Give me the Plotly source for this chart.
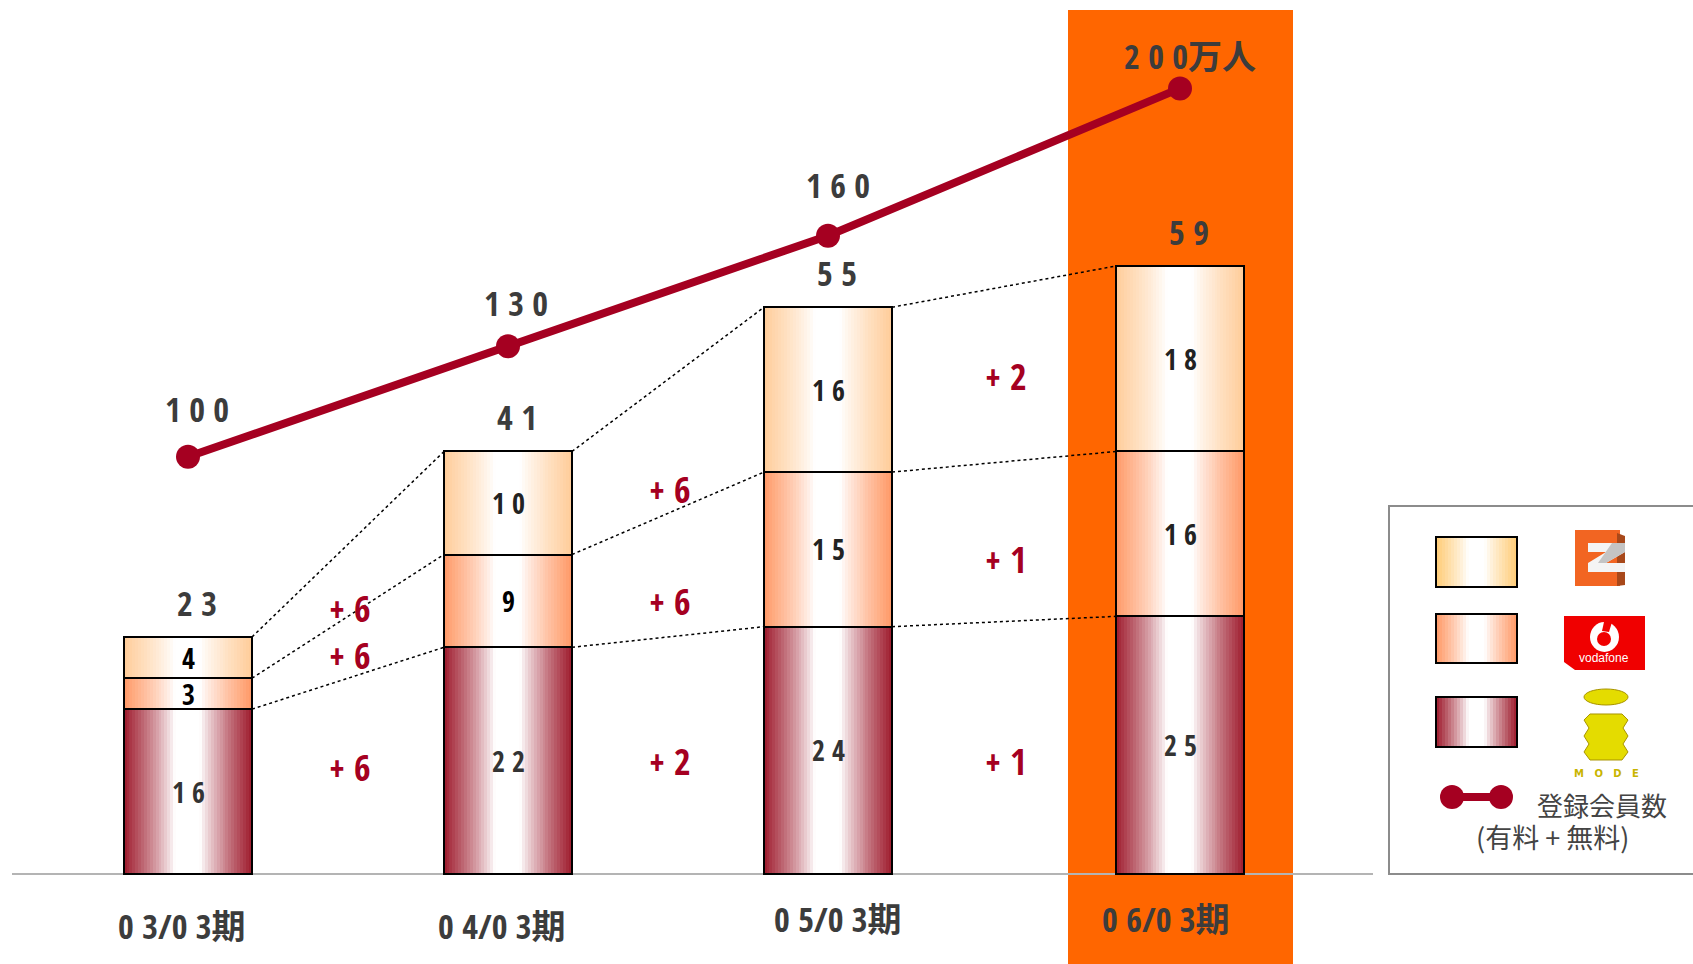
import plotly.graph_objects as go

# Membership data (units: 10,000 people)
periods = ["0 3/0 3期", "0 4/0 3期", "0 5/0 3期", "0 6/0 3期"]
imode = [16, 22, 24, 25]
vodafone = [3, 9, 15, 16]
ezweb = [4, 10, 16, 18]
totals = [23, 41, 55, 59]
members = [100, 130, 160, 200]
member_labels = ["1 0 0", "1 3 0", "1 6 0", "2 0 0万人"]
delta_top = ["+ 6", "+ 6", "+ 2"]
delta_mid = ["+ 6", "+ 6", "+ 1"]
delta_low = ["+ 6", "+ 2", "+ 1"]

# Page geometry
W, H = 1693, 964
BASE_PX = 874
X0_PX, SLOT_PX = 188, 320
SLOTS = [0, 1, 2, 3.1]
BAR_W = 0.4
STRIPS = 44
PX_PER_UNIT = 608 / 59
PX_PER_MEMBER, MEMBER_OFFSET = 3.684, 48.8

NUM_FONT = "Open Sans Condensed, Noto Sans CJK JP, sans-serif"
CJK_FONT = "Noto Sans CJK JP, sans-serif"
DARK = "#3c3c3c"
CRIMSON = "#A50021"
ORANGE = "#FF6600"
C_LOW, C_MID, C_TOP = "#9E1B2D", "#FF9966", "#FFCC99"


def fade(edge, t):
    """Horizontal sheen: edge colour at t=0 and t=1, white through the centre."""
    d = min(abs(t - 0.5) * 2, 1)
    k = min(max((d - 0.2) / 0.8, 0), 1) ** 0.85
    rgb = [int(edge[i:i + 2], 16) for i in (1, 3, 5)]
    return "rgb(%d,%d,%d)" % tuple(round(255 + (c - 255) * k) for c in rgb)


def px(x):
    return x / W


def py(y):
    return 1 - y / H


fig = go.Figure()

# Gradient fill of every stacked segment, built from narrow strips
step = BAR_W / STRIPS
for name, vals, edge in (("i-mode", imode, C_LOW), ("vodafone", vodafone, C_MID), ("EZweb", ezweb, C_TOP)):
    xs, ys, cols = [], [], []
    for s, v in zip(SLOTS, vals):
        for i in range(STRIPS):
            t = (i + 0.5) / STRIPS
            xs.append(s - BAR_W / 2 + t * BAR_W)
            ys.append(v)
            cols.append(fade(edge, t))
    fig.add_trace(go.Bar(x=xs, y=ys, width=step * 1.25, name=name, marker=dict(color=cols, line_width=0),
                         hoverinfo="skip", showlegend=False))

# Black outlines of the same stacks on an overlaid axis pair
for vals in (imode, vodafone, ezweb):
    fig.add_trace(go.Bar(x=SLOTS, y=vals, width=BAR_W, xaxis="x2", yaxis="y3", showlegend=False,
                         marker=dict(color="rgba(0,0,0,0)", line=dict(color="#000000", width=2))))

# Dotted connectors between the tops of matching segments
cum_low = imode
cum_mid = [a + b for a, b in zip(imode, vodafone)]
cum_top = [a + b + c for a, b, c in zip(imode, vodafone, ezweb)]
for cum in (cum_low, cum_mid, cum_top):
    xs, ys = [], []
    for i in range(3):
        xs += [SLOTS[i] + BAR_W / 2, SLOTS[i + 1] - BAR_W / 2, None]
        ys += [cum[i], cum[i + 1], None]
    fig.add_trace(go.Scatter(x=xs, y=ys, mode="lines", showlegend=False, hoverinfo="skip",
                             line=dict(color="#000000", width=1.5, dash="dot")))

# Registered members line
fig.add_trace(go.Scatter(x=SLOTS, y=members, yaxis="y2", mode="lines+markers", showlegend=False,
                         line=dict(color=CRIMSON, width=8), marker=dict(color=CRIMSON, size=24)))

ann = []


def text(x, y, s, size, color=DARK, family=NUM_FONT, xref="paper", yref="paper", bold=True, **kw):
    ann.append(dict(x=x, y=y, xref=xref, yref=yref, text=f"<b>{s}</b>" if bold else s, showarrow=False,
                    xanchor="center", yanchor="middle", font=dict(size=size, color=color, family=family), **kw))


# Segment values, centred in each segment
for i, s in enumerate(SLOTS):
    text(s, imode[i] / 2, f"{imode[i] // 10} {imode[i] % 10}", 28, "#333333", xref="x", yref="y")
    for vals, base in ((vodafone, cum_low), (ezweb, cum_mid)):
        v = vals[i]
        label = str(v) if v < 10 else f"{v // 10} {v % 10}"
        text(s, base[i] + v / 2, label, 28, "#000000" if v < 10 else "#222222", xref="x", yref="y")
    # Stack totals above each bar
    text(s, totals[i], f"{totals[i] // 10} {totals[i] % 10}", 34, xref="x", yref="y", xshift=9, yshift=34)

# Member counts above the line
for s, v, lab, xs, ys in zip(SLOTS, members, member_labels, (9, 8, 10, 10), (48, 43, 51, 32)):
    text(s, v, lab, 34, xref="x", yref="y2", xshift=xs, yshift=ys)

# Period labels under the baseline
for s, lab, xs, y in zip(SLOTS, periods, (-6, -6, 10, -14), (926, 926, 919, 919)):
    text(s, py(y), lab, 34, xref="x", yref="paper", xshift=xs)

# Year-on-year increases between the bars
for j, x, ytop, ymid, ylow in ((0, 350, 608, 655, 767), (1, 670, 489, 601, 761), (2, 1006, 377, 559, 761)):
    text(px(x), py(ytop), delta_top[j], 36, CRIMSON)
    text(px(x), py(ymid), delta_mid[j], 36, CRIMSON)
    text(px(x), py(ylow), delta_low[j], 36, CRIMSON)

# Legend captions
text(px(1602), py(804), "登録会員数", 26, "#444444", CJK_FONT, bold=False)
text(px(1552), py(836), "(有料 + 無料)", 27, "#444444", CJK_FONT, bold=False)
text(px(1604), py(658), "vodafone", 12, "#ffffff", "Liberation Sans, sans-serif", bold=False)
text(px(1606), py(773), "M\u00a0\u00a0\u00a0O\u00a0\u00a0\u00a0D\u00a0\u00a0\u00a0E", 10, "#C8B400", "DejaVu Sans, sans-serif")

shapes = [
    # Highlight band behind the latest period
    dict(type="rect", xref="paper", yref="paper", x0=px(1068), x1=px(1293), y0=0, y1=py(10),
         fillcolor=ORANGE, line_width=0, layer="below"),
    # Baseline
    dict(type="line", xref="paper", yref="paper", x0=px(12), x1=px(1373), y0=py(BASE_PX), y1=py(BASE_PX),
         line=dict(color="#b4b4b4", width=2), layer="below"),
    # Legend frame, running off the right edge
    dict(type="rect", xref="paper", yref="paper", x0=px(1389), x1=px(1700), y0=py(874), y1=py(506),
         line=dict(color="#8c8c8c", width=2), fillcolor="rgba(0,0,0,0)", layer="below"),
]


def pshape(**kw):
    if "line" not in kw:
        kw["line"] = dict(width=0)
    shapes.append(dict(xref="paper", yref="paper", layer="above", **kw))


def path(points):
    return "M" + " L".join(f"{px(x):.5f},{py(y):.5f}" for x, y in points) + " Z"


# Legend swatches with the same sheen as the bars
for edge, top, bottom in (("#FFCC77", 537, 587), (C_MID, 614, 663), (C_LOW, 697, 747)):
    n = 27
    for i in range(n):
        pshape(type="rect", x0=px(1436 + 81 * i / n), x1=px(1436 + 81 * (i + 1) / n + 0.6),
               y0=py(bottom), y1=py(top), fillcolor=fade(edge, (i + 0.5) / n))
    pshape(type="rect", x0=px(1436), x1=px(1517), y0=py(bottom), y1=py(top),
           line=dict(color="#000000", width=2))

# Legend key of the line series
pshape(type="line", x0=px(1452), x1=px(1501), y0=py(797), y1=py(797), line=dict(color=CRIMSON, width=8))
for cx in (1452, 1501):
    pshape(type="circle", x0=px(cx - 12), x1=px(cx + 12), y0=py(809), y1=py(785), fillcolor=CRIMSON)

# EZweb mark
pshape(type="rect", x0=px(1575), x1=px(1620), y0=py(586), y1=py(530), fillcolor="#F26522")
pshape(type="path", path=path([(1617, 533), (1625, 536), (1625, 585), (1617, 586)]), fillcolor="#A8481A")
pshape(type="path", path=path([(1588, 543), (1625, 543), (1625, 552), (1606, 563), (1625, 563), (1625, 572),
                               (1588, 572), (1588, 563), (1606, 552), (1588, 552)]), fillcolor="#F4F4F4")
pshape(type="path", path=path([(1612, 543), (1625, 543), (1625, 552), (1606, 563), (1598, 563)]), fillcolor="#C4C4C4")

# vodafone mark
pshape(type="path", path=path([(1564, 616), (1645, 616), (1645, 670), (1575, 670), (1564, 662)]), fillcolor="#F00000")
pshape(type="circle", x0=px(1590), x1=px(1619), y0=py(652), y1=py(622), fillcolor="#ffffff")
pshape(type="circle", x0=px(1597), x1=px(1611), y0=py(646), y1=py(632), fillcolor="#F00000")
pshape(type="path", path=path([(1604, 622), (1612, 622), (1609, 632), (1602, 631)]), fillcolor="#F00000")

# i-mode mark
pshape(type="circle", x0=px(1584), x1=px(1628), y0=py(705), y1=py(689), fillcolor="#E4DC00", line=dict(color="#A89400", width=1))
pshape(type="path", path=path([(1590, 714), (1622, 714), (1628, 720), (1623, 728), (1628, 736), (1623, 744),
                               (1628, 752), (1622, 760), (1590, 760), (1584, 752), (1589, 744), (1584, 736),
                               (1589, 728), (1584, 720)]), fillcolor="#E4DC00", line=dict(color="#A89400", width=1))

# Axis ranges that put the baseline and the slots where the page layout wants them
x_range = [-X0_PX / SLOT_PX, (W - X0_PX) / SLOT_PX]
y_range = [-(H - BASE_PX) / PX_PER_UNIT, BASE_PX / PX_PER_UNIT]
y2_range = [(-(H - BASE_PX) - MEMBER_OFFSET) / PX_PER_MEMBER, (BASE_PX - MEMBER_OFFSET) / PX_PER_MEMBER]
hidden = dict(visible=False, showgrid=False, zeroline=False, fixedrange=True)

fig.update_layout(
    width=W, height=H, autosize=False, margin=dict(l=0, r=0, t=0, b=0), barmode="stack", bargap=0,
    paper_bgcolor="#ffffff", plot_bgcolor="rgba(0,0,0,0)", showlegend=False,
    xaxis=dict(range=x_range, domain=[0, 1], **hidden),
    xaxis2=dict(range=x_range, domain=[0, 1], overlaying="x", **hidden),
    yaxis=dict(range=y_range, domain=[0, 1], **hidden),
    yaxis2=dict(range=y2_range, overlaying="y", **hidden),
    yaxis3=dict(range=y_range, overlaying="y", anchor="x2", **hidden),
    shapes=shapes, annotations=ann,
)

fig.write_html("out.html", config=dict(displayModeBar=False))
